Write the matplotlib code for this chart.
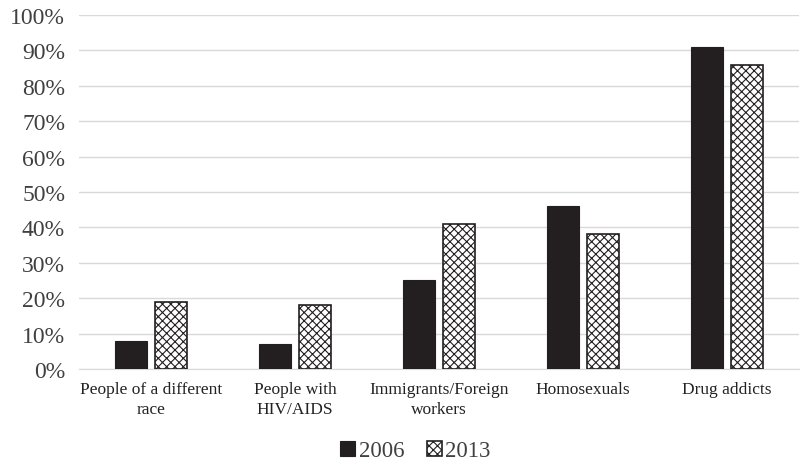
import numpy as np
import matplotlib.pyplot as plt
import matplotlib as mpl
from matplotlib.ticker import PercentFormatter

plt.rcParams['font.family'] = ['Liberation Serif', 'DejaVu Serif']
mpl.rcParams['hatch.linewidth'] = 0.8

categories = ['People of a different\nrace', 'People with\nHIV/AIDS',
              'Immigrants/Foreign\nworkers', 'Homosexuals', 'Drug addicts']
vals_2006 = [8, 7, 25, 46, 91]
vals_2013 = [19, 18, 41, 38, 86]

fig = plt.figure(figsize=(8.02, 4.64), dpi=100)
ax = fig.add_axes([0.0985, 0.2026, 0.898, 0.7629])

x = np.arange(len(categories))
w = 0.22
gap = 0.03
ax.bar(x - w / 2 - gap, vals_2006, w, color='#231f20', edgecolor='#231f20',
       linewidth=0.8, label='2006', zorder=3)
ax.bar(x + w / 2 + gap, vals_2013, w, color='white', edgecolor='#231f20',
       hatch='xxxx', linewidth=1.2, label='2013', zorder=3)

ax.set_xlim(-0.5, len(categories) - 0.5)
ax.set_ylim(0, 100)
ax.set_yticks(np.arange(0, 101, 10))
ax.yaxis.set_major_formatter(PercentFormatter(decimals=0))
ax.grid(axis='y', color='#d9d9d9', linewidth=1, zorder=0)
for s in ['top', 'right', 'left']:
    ax.spines[s].set_visible(False)
ax.spines['bottom'].set_color('#d9d9d9')
ax.tick_params(axis='both', length=0)
ax.tick_params(axis='y', labelsize=17, pad=10, colors='#404040')
ax.set_xticks(x)
ax.set_xticklabels(categories, fontsize=12.5, color='#222222', linespacing=1.3)
ax.tick_params(axis='x', pad=9)

fig.legend(loc='center', bbox_to_anchor=(0.518, 0.026), ncol=2, frameon=False,
           fontsize=16.5, handlelength=0.65, handleheight=0.65, handletextpad=0.15,
           columnspacing=1.0, labelcolor='#404040')

fig.savefig('out.png', dpi=100)
